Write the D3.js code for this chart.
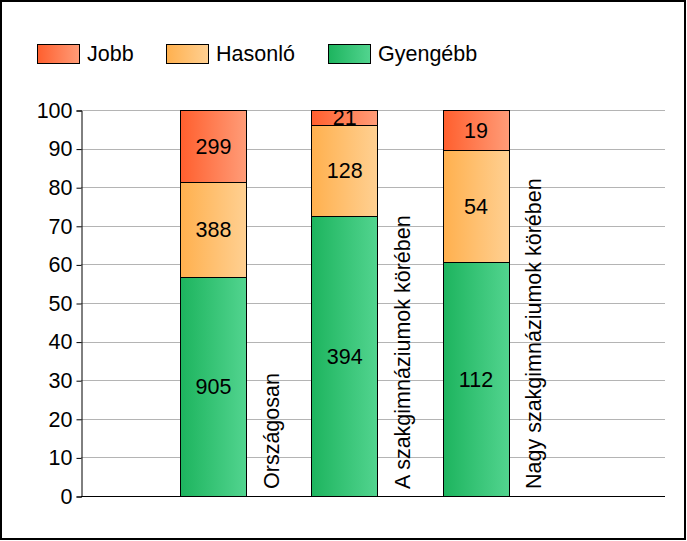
<!DOCTYPE html>
<html>
<head>
<meta charset="utf-8">
<script src="https://cdn.jsdelivr.net/npm/d3@7"></script>
<style>
  body { margin: 0; background: #fff; }
  text { font-family: "Liberation Sans", Arial, sans-serif; }
</style>
</head>
<body>
<svg id="chart" width="687" height="541"></svg>
<script>
// data
var categories = ["Országosan", "A szakgimnáziumok körében", "Nagy szakgimnáziumok körében"];
var seriesNames = ["Gyengébb", "Hasonló", "Jobb"];
var gyengebb = [905, 394, 112];
var hasonlo = [388, 128, 54];
var jobb = [299, 21, 19];
var yTicks = [0, 10, 20, 30, 40, 50, 60, 70, 80, 90, 100];
var legendOrder = ["Jobb", "Hasonló", "Gyengébb"];

var colors = {
  "Jobb": ["#ff5f2e", "#ff9c78"],
  "Hasonló": ["#ffb04e", "#ffd092"],
  "Gyengébb": ["#1db45e", "#52d48f"]
};

function drawChart() {
  var svg = d3.select("#chart");
  var fs = 21.5;

  // outer frame
  svg.append("rect")
    .attr("x", 1).attr("y", 1).attr("width", 684).attr("height", 538)
    .attr("fill", "#fff").attr("stroke", "#000").attr("stroke-width", 2);

  var defs = svg.append("defs");
  Object.keys(colors).forEach(function(k, i) {
    var g = defs.append("linearGradient").attr("id", "grad" + i)
      .attr("x1", "0%").attr("x2", "100%").attr("y1", "0%").attr("y2", "0%");
    g.append("stop").attr("offset", "0%").attr("stop-color", colors[k][0]);
    g.append("stop").attr("offset", "100%").attr("stop-color", colors[k][1]);
  });
  function gradId(name) { return "url(#grad" + Object.keys(colors).indexOf(name) + ")"; }

  var pLeft = 81, pRight = 665, pTop = 110, pBottom = 496;
  var y = d3.scaleLinear().domain([0, 100]).range([pBottom, pTop]);
  var x = d3.scaleLinear().domain([1, 3]).range([213.5, 476]);
  var barW = 66;

  // gridlines
  svg.append("g").selectAll("line").data(yTicks.filter(function(d){ return d > 0; }))
    .enter().append("line")
    .attr("x1", pLeft).attr("x2", pRight)
    .attr("y1", function(d){ return Math.round(y(d)) + 0.5; })
    .attr("y2", function(d){ return Math.round(y(d)) + 0.5; })
    .attr("stroke", "#b4b4b4").attr("stroke-width", 1);

  // stack to percentages
  var rows = categories.map(function(c, i) {
    var total = gyengebb[i] + hasonlo[i] + jobb[i];
    return { cat: c, i: i, vals: { "Gyengébb": gyengebb[i], "Hasonló": hasonlo[i], "Jobb": jobb[i] }, total: total };
  });
  var stack = d3.stack().keys(seriesNames)
    .value(function(d, key){ return d.vals[key] / d.total * 100; });
  var layers = stack(rows);

  var barsG = svg.append("g");
  layers.forEach(function(layer) {
    var name = layer.key;
    barsG.selectAll(null).data(layer).enter().append("rect")
      .attr("x", function(d){ return Math.floor(x(d.data.i + 1) - barW / 2) + 0.5; })
      .attr("y", function(d){ return Math.round(y(d[1])) + 0.5; })
      .attr("width", barW)
      .attr("height", function(d){ return Math.round(y(d[0])) - Math.round(y(d[1])); })
      .attr("fill", gradId(name))
      .attr("stroke", "#000").attr("stroke-width", 1);
  });
  layers.forEach(function(layer) {
    var name = layer.key;
    barsG.selectAll(null).data(layer).enter().append("text")
      .attr("x", function(d){ return x(d.data.i + 1); })
      .attr("y", function(d){ return y((d[0] + d[1]) / 2); })
      .attr("dy", "0.36em")
      .attr("text-anchor", "middle")
      .attr("font-size", fs)
      .text(function(d){ return d.data.vals[name]; });
  });

  // axes
  var yAxis = d3.axisLeft(y).tickValues(yTicks).tickSize(5).tickPadding(4);
  var yg = svg.append("g").attr("transform", "translate(" + (pLeft + 0.5) + ",0.5)").call(yAxis);
  yg.select(".domain").attr("stroke", "#000");
  yg.selectAll(".tick line").attr("stroke", "#000");
  yg.selectAll(".tick text").attr("font-size", fs).attr("fill", "#000")
    .style("font-family", "'Liberation Sans', Arial, sans-serif");

  svg.append("line")
    .attr("x1", pLeft).attr("x2", pRight)
    .attr("y1", pBottom + 0.5).attr("y2", pBottom + 0.5)
    .attr("stroke", "#000");

  // rotated category labels
  svg.append("g").selectAll("text").data(categories).enter().append("text")
    .attr("transform", function(d, i){ return "translate(" + (x(i + 1) + barW / 2 + 32) + "," + (pBottom - 7) + ") rotate(-90)"; })
    .attr("font-size", fs)
    .text(function(d){ return d; });

  // legend
  var legendX = [37, 166, 328];
  var lg = svg.append("g").selectAll("g").data(legendOrder).enter().append("g")
    .attr("transform", function(d, i){ return "translate(" + legendX[i] + ",44)"; });
  lg.append("rect").attr("x", 0.5).attr("y", 0.5).attr("width", 42).attr("height", 19)
    .attr("fill", function(d){ return gradId(d); }).attr("stroke", "#000");
  lg.append("text").attr("x", 50).attr("y", 17).attr("font-size", fs)
    .text(function(d){ return d; });
}
drawChart();
</script>
</body>
</html>
